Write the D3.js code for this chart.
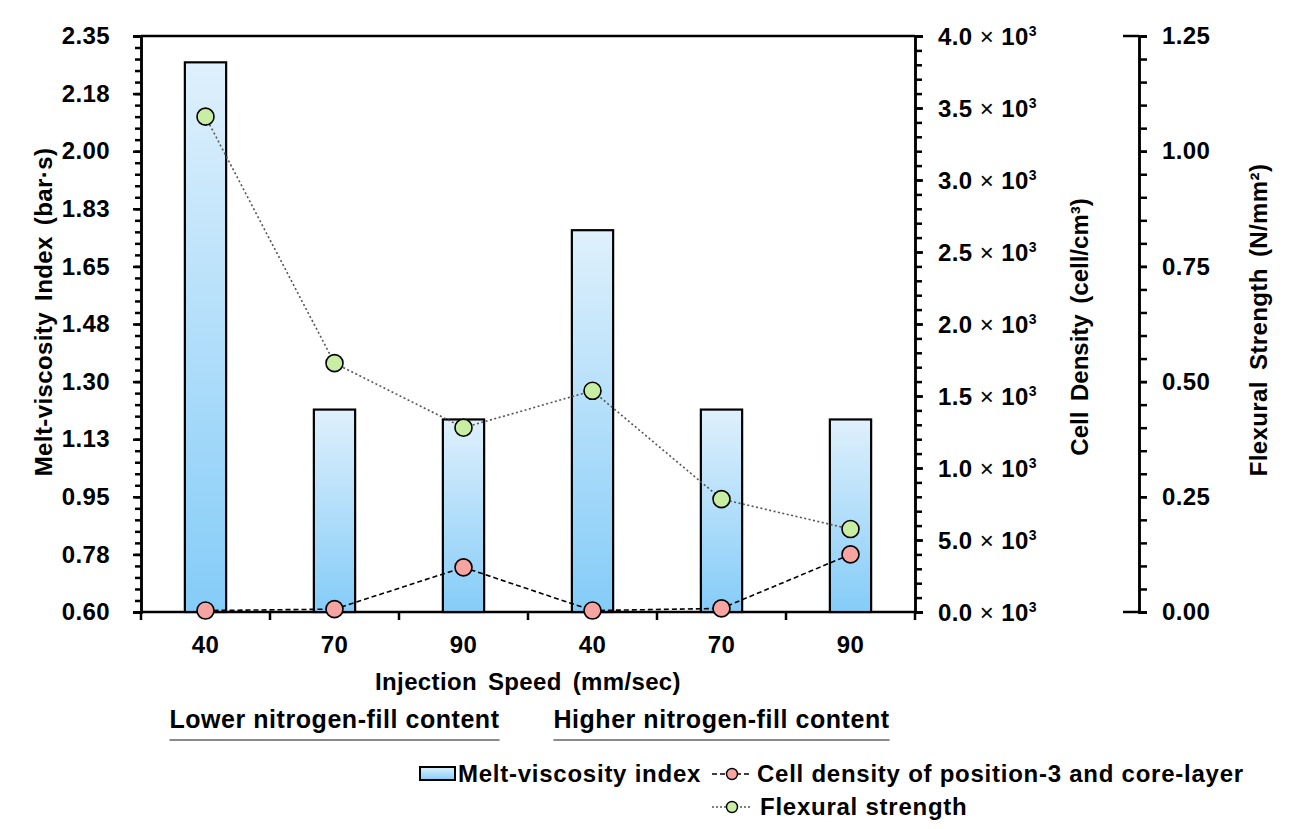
<!DOCTYPE html>
<html><head><meta charset="utf-8">
<script src="https://cdn.jsdelivr.net/npm/d3@7"></script>
<style>
body{margin:0;background:#fff}
text{font-family:"Liberation Sans",Arial,Helvetica,sans-serif;font-weight:bold;fill:#000}
</style>
</head><body><svg id="c" width="1312" height="829"></svg>
<script>
// ---------- data ----------
const categories = ["40","70","90","40","70","90"];
const meltViscosity = [2.27, 1.215, 1.185, 1.76, 1.215, 1.185];
const cellDensity = [10, 20, 310, 10, 25, 400];
const flexuralStrength = [1.075, 0.54, 0.40, 0.48, 0.245, 0.18];
const leftTicks = [0.6,0.775,0.95,1.125,1.3,1.475,1.65,1.825,2.0,2.175,2.35];
const leftTickLabels = ["0.60","0.78","0.95","1.13","1.30","1.48","1.65","1.83","2.00","2.18","2.35"];
const cellTicks = [0,500,1000,1500,2000,2500,3000,3500,4000];
const cellTickLabels = ["0.0","5.0","1.0","1.5","2.0","2.5","3.0","3.5","4.0"];
const flexTicks = [0,0.25,0.5,0.75,1.0,1.25];
const flexTickLabels = ["0.00","0.25","0.50","0.75","1.00","1.25"];
const groups = ["Lower nitrogen-fill content","Higher nitrogen-fill content"];
const legendLabels = ["Melt-viscosity index","Cell density of position-3 and core-layer","Flexural strength"];

// ---------- layout ----------
const L=141, R=915, T=36, B=612, FX=1139;
const svg = d3.select("#c");

const x = d3.scaleBand().domain(d3.range(categories.length)).range([L,R]);
const yL = d3.scaleLinear().domain([0.6,2.35]).range([B,T]);
const yC = d3.scaleLinear().domain([0,4000]).range([B,T]);
const yF = d3.scaleLinear().domain([0,1.25]).range([B,T]);

const defs = svg.append("defs");
const grad = defs.append("linearGradient").attr("id","barGrad").attr("x1",0).attr("y1",0).attr("x2",0).attr("y2",1);
grad.append("stop").attr("offset","0%").attr("stop-color","#dff0fc");
grad.append("stop").attr("offset","100%").attr("stop-color","#84ccf8");

function styleAxis(g){
  g.select(".domain").attr("stroke","#000").attr("stroke-width",2.5);
  g.selectAll(".tick line").attr("stroke","#000").attr("stroke-width",2.5);
  g.selectAll(".tick text").style("font-size","24px").style("font-weight","bold").style("letter-spacing","0.4px").attr("fill","#000");
}

// plot frame top
svg.append("line").attr("x1",L).attr("x2",R).attr("y1",T).attr("y2",T).attr("stroke","#000").attr("stroke-width",2.5);

// left axis
const gl = svg.append("g").attr("transform",`translate(${L},0)`);
gl.call(d3.axisLeft(yL).tickValues(d3.range(0.6,2.35+1e-9,0.035)).tickSize(6).tickFormat(""));
styleAxis(gl);
const gl2 = svg.append("g").attr("transform",`translate(${L},0)`);
gl2.call(d3.axisLeft(yL).tickValues(leftTicks).tickSize(8).tickPadding(23).tickFormat((d,i)=>leftTickLabels[i]));
styleAxis(gl2);

// cell density axis
const gc = svg.append("g").attr("transform",`translate(${R},0)`);
gc.call(d3.axisRight(yC).tickValues(d3.range(0,4001,100)).tickSize(7).tickFormat(""));
styleAxis(gc);
const gc2 = svg.append("g").attr("transform",`translate(${R},0)`);
gc2.call(d3.axisRight(yC).tickValues(cellTicks).tickSize(8).tickPadding(15).tickFormat(""));
styleAxis(gc2);
gc2.selectAll(".tick text").each(function(d,i){
  const t=d3.select(this);
  t.text(null).attr("dy","0.35em");
  t.append("tspan").text(cellTickLabels[i]);
  t.append("tspan").text(" × ").style("font-weight","normal");
  t.append("tspan").text("10");
  t.append("tspan").text("3").style("font-size","14px").attr("dy","-9");
});

// flexural axis
const gf = svg.append("g").attr("transform",`translate(${FX},0)`);
gf.call(d3.axisRight(yF).tickValues(d3.range(0,1.25+1e-9,0.05)).tickSize(8).tickFormat(""));
styleAxis(gf);
const gf2 = svg.append("g").attr("transform",`translate(${FX},0)`);
gf2.call(d3.axisRight(yF).tickValues(flexTicks).tickSize(8).tickPadding(15).tickFormat((d,i)=>flexTickLabels[i]));
styleAxis(gf2);
[0,1.25].forEach(v=>svg.append("line").attr("x1",FX-16).attr("x2",FX).attr("y1",yF(v)).attr("y2",yF(v)).attr("stroke","#000").attr("stroke-width",2.5));

// x axis
const gx = svg.append("g").attr("transform",`translate(0,${B})`);
gx.append("line").attr("x1",L).attr("x2",R).attr("stroke","#000").attr("stroke-width",2.5);
d3.range(categories.length+1).forEach(i=>{
  const xx = i<categories.length ? x(i) : x(categories.length-1)+x.bandwidth();
  gx.append("line").attr("x1",xx).attr("x2",xx).attr("y1",0).attr("y2",8).attr("stroke","#000").attr("stroke-width",2.5);
});
gx.selectAll("text.cat").data(categories).join("text").attr("class","cat")
  .attr("x",(d,i)=>x(i)+x.bandwidth()/2).attr("y",41).attr("text-anchor","middle")
  .style("font-size","24px").style("letter-spacing","0.4px").text(d=>d);

// bars
const bw = x.bandwidth()*0.32;
svg.append("g").selectAll("rect").data(meltViscosity).join("rect")
  .attr("x",(d,i)=>x(i)+(x.bandwidth()-bw)/2).attr("width",bw)
  .attr("y",d=>yL(d)).attr("height",d=>yL(0.6)-yL(d))
  .attr("fill","url(#barGrad)").attr("stroke","#000").attr("stroke-width",2.2);

const cx = i=>x(i)+x.bandwidth()/2;
// flexural line
svg.append("path").datum(flexuralStrength)
  .attr("d",d3.line().x((d,i)=>cx(i)).y(d=>yF(d)))
  .attr("fill","none").attr("stroke","#555").attr("stroke-width",1.6).attr("stroke-dasharray","2,2.5");
// cell line
svg.append("path").datum(cellDensity)
  .attr("d",d3.line().x((d,i)=>cx(i)).y(d=>yC(d)))
  .attr("fill","none").attr("stroke","#000").attr("stroke-width",1.6).attr("stroke-dasharray","5,3");

svg.append("g").selectAll("circle").data(flexuralStrength).join("circle")
  .attr("cx",(d,i)=>cx(i)).attr("cy",d=>yF(d)).attr("r",8.5)
  .attr("fill","#c8eea4").attr("stroke","#000").attr("stroke-width",1.6);
svg.append("g").selectAll("circle").data(cellDensity).join("circle")
  .attr("cx",(d,i)=>cx(i)).attr("cy",d=>yC(d)).attr("r",8.5)
  .attr("fill","#f6a4a2").attr("stroke","#000").attr("stroke-width",1.6);

// axis titles
svg.append("text").attr("transform","translate(52,312) rotate(-90)").attr("text-anchor","middle")
  .style("font-size","24px").style("word-spacing","4px").style("letter-spacing","0.4px").text("Melt-viscosity Index (bar·s)");
svg.append("text").attr("transform","translate(1088,327) rotate(-90)").attr("text-anchor","middle")
  .style("font-size","24px").style("word-spacing","4px").text("Cell Density (cell/cm³)");
svg.append("text").attr("transform","translate(1267,320) rotate(-90)").attr("text-anchor","middle")
  .style("font-size","24px").style("word-spacing","4px").style("letter-spacing","0.4px").text("Flexural Strength (N/mm²)");

svg.append("text").attr("x",(L+R)/2).attr("y",690).attr("text-anchor","middle")
  .style("font-size","24px").style("word-spacing","4px").style("letter-spacing","0.35px").text("Injection Speed (mm/sec)");

// group labels
groups.forEach((g,gi)=>{
  const cxg = (x(gi*3)+x(gi*3+2)+x.bandwidth())/2;
  const t = svg.append("text").attr("x",cxg).attr("y",728).attr("text-anchor","middle")
    .style("font-size","25px").style("letter-spacing","0.55px").text(g);
  const w = t.node().getComputedTextLength();
  svg.append("line").attr("x1",cxg-w/2).attr("x2",cxg+w/2).attr("y1",740).attr("y2",740)
    .attr("stroke","#8a8a8a").attr("stroke-width",2);
});

// legend
const lg = svg.append("g");
lg.append("rect").attr("x",420).attr("y",767).attr("width",35).attr("height",13)
  .attr("fill","url(#barGrad)").attr("stroke","#000").attr("stroke-width",2);
lg.append("text").attr("x",458).attr("y",782).style("font-size","24px").style("letter-spacing","0.75px").text(legendLabels[0]);
lg.append("line").attr("x1",712).attr("x2",752).attr("y1",774).attr("y2",774)
  .attr("stroke","#000").attr("stroke-width",1.6).attr("stroke-dasharray","5,3");
lg.append("circle").attr("cx",732).attr("cy",774).attr("r",5.5).attr("fill","#f6a4a2").attr("stroke","#000").attr("stroke-width",1.4);
lg.append("text").attr("x",757).attr("y",782).style("font-size","24px").style("letter-spacing","0.75px").text(legendLabels[1]);
lg.append("line").attr("x1",712).attr("x2",752).attr("y1",807).attr("y2",807)
  .attr("stroke","#555").attr("stroke-width",1.6).attr("stroke-dasharray","2,2");
lg.append("circle").attr("cx",732).attr("cy",807).attr("r",5.5).attr("fill","#c8eea4").attr("stroke","#000").attr("stroke-width",1.4);
lg.append("text").attr("x",760).attr("y",815).style("font-size","24px").style("letter-spacing","0.75px").text(legendLabels[2]);
</script>
</body></html>
